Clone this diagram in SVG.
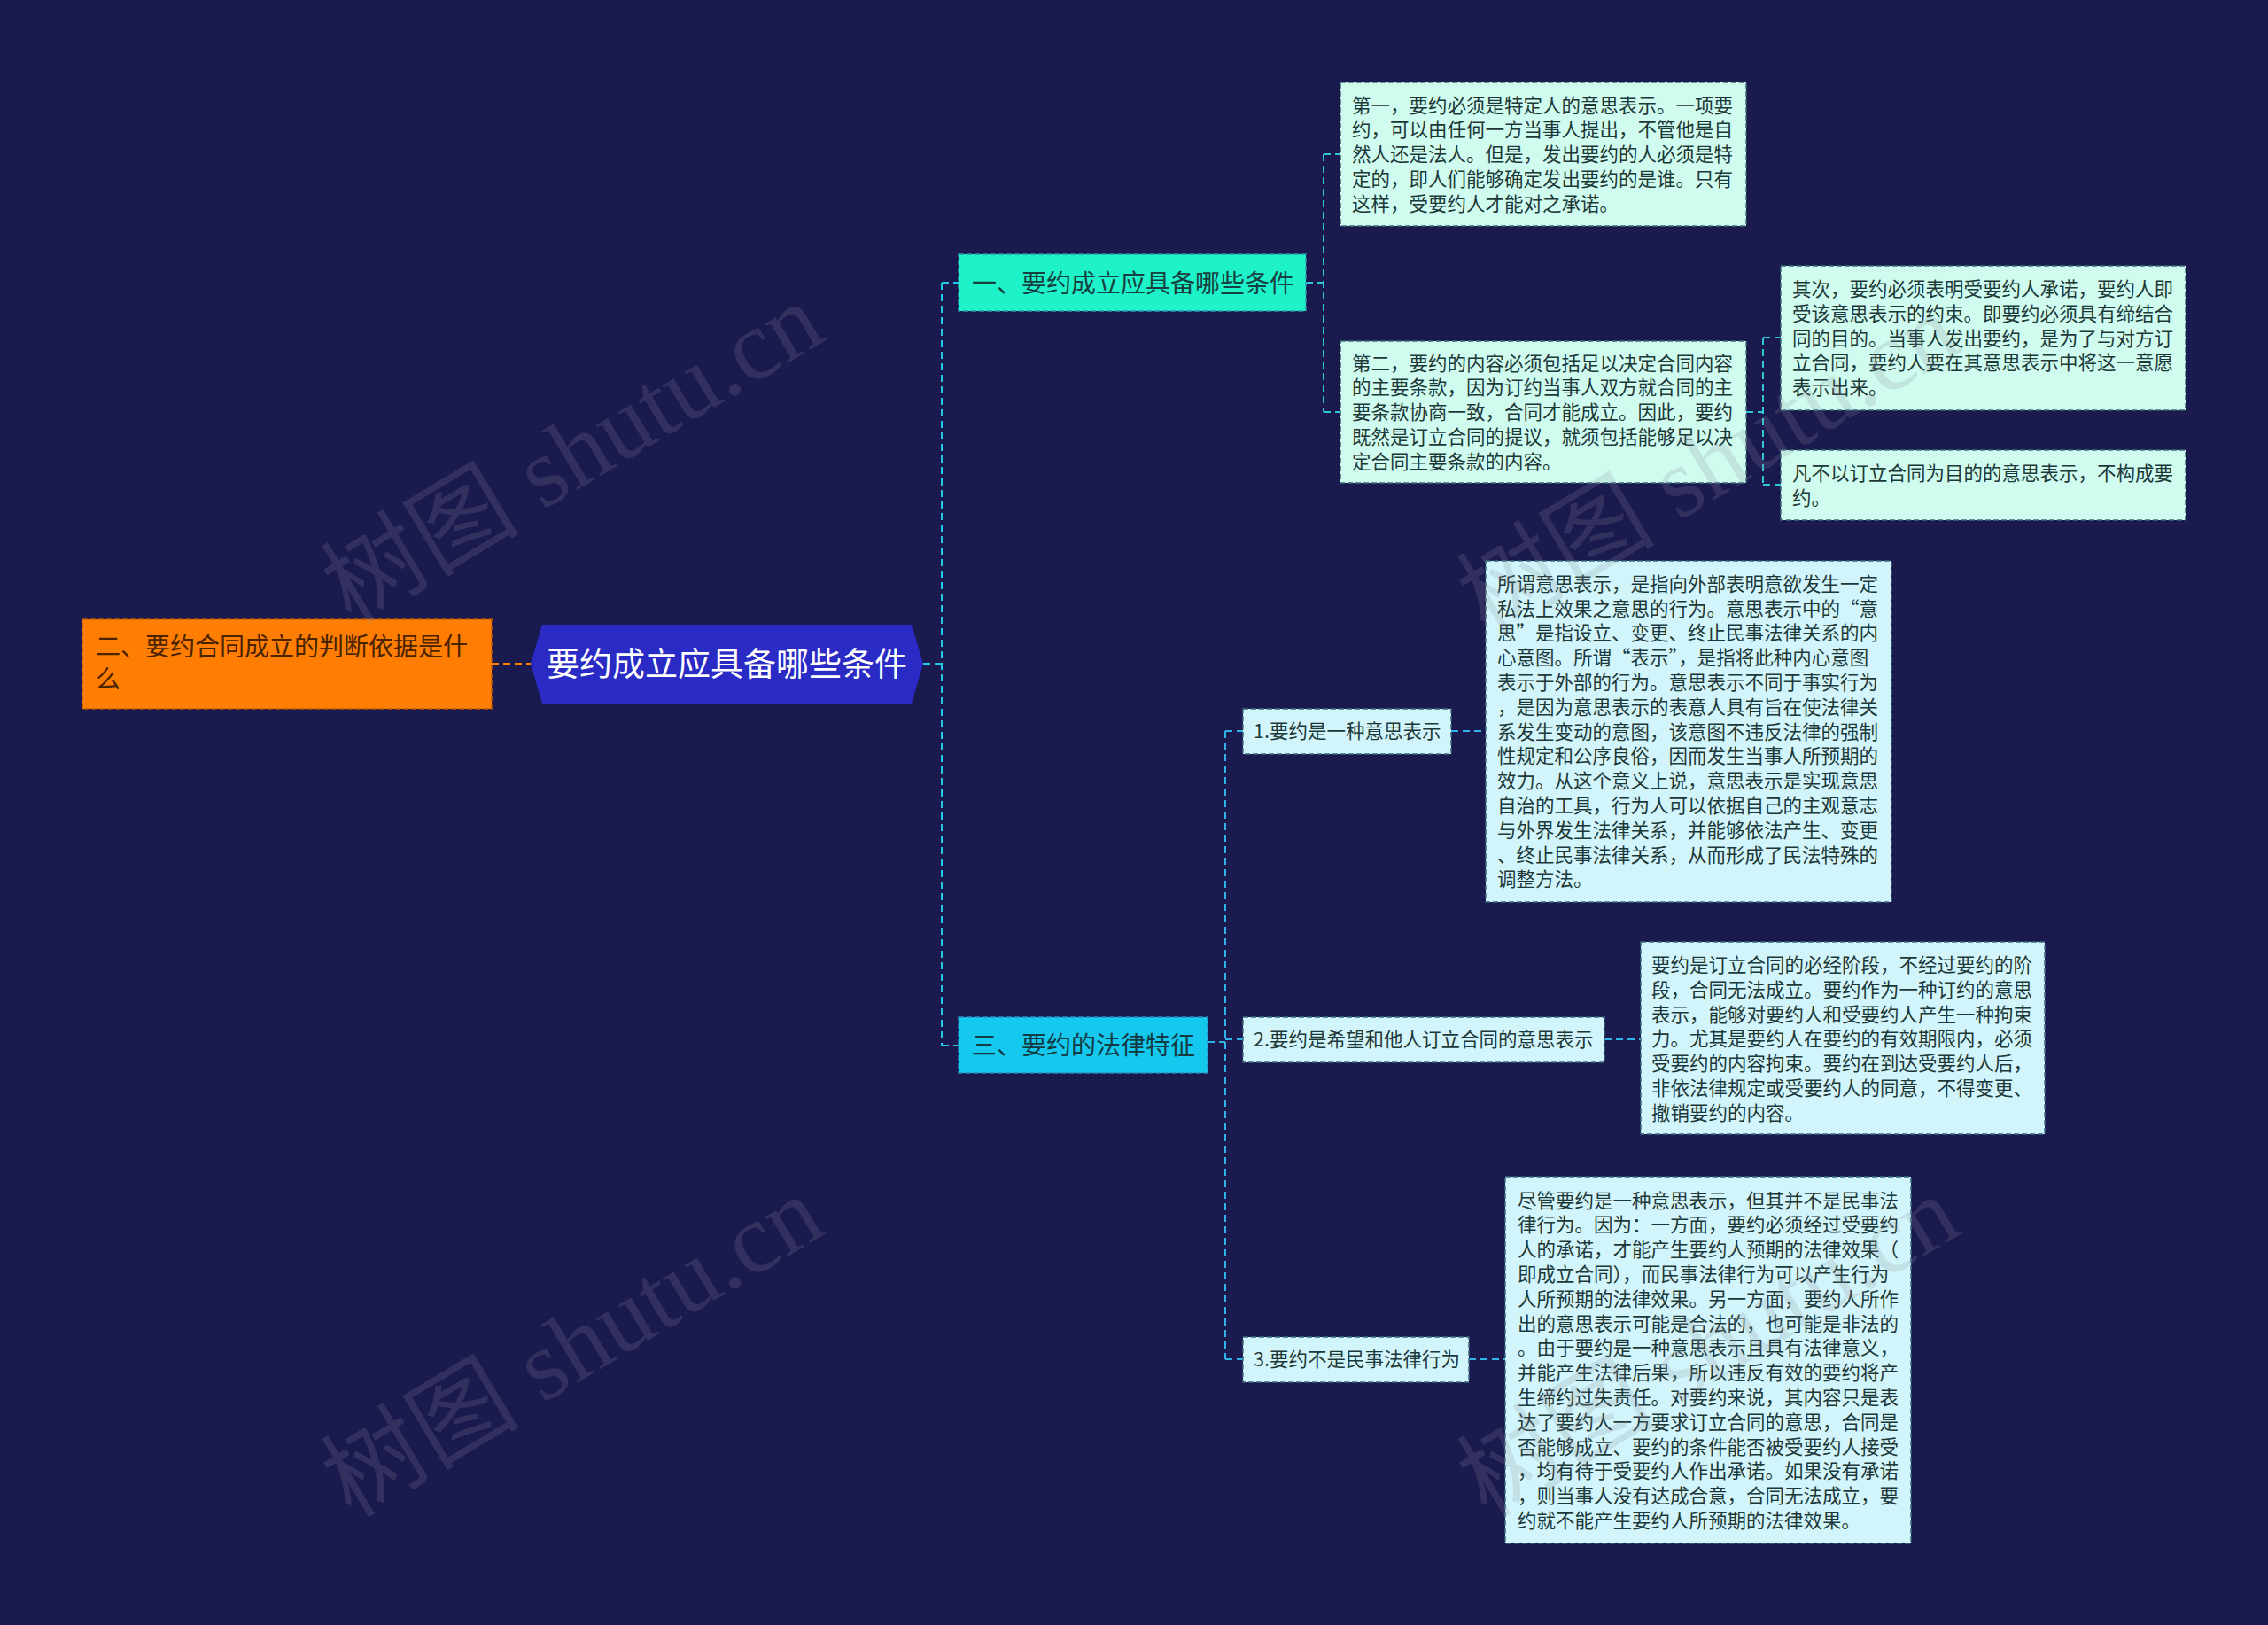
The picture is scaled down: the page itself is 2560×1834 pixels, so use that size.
<svg xmlns="http://www.w3.org/2000/svg" width="2560" height="1834" viewBox="0 0 2560 1834">
<style>
.t{font-family:"Noto Sans CJK SC","Noto Sans",sans-serif;}
.leaf{font-size:21.5px;fill:#1d3838;}
.lm{fill:#cffcef;stroke:#3a6f7c;stroke-width:1.5;stroke-dasharray:6 3;}
.lc{fill:#d2f5fb;stroke:#3a6a80;stroke-width:1.5;stroke-dasharray:6 3;}
.con{fill:none;stroke-width:2;stroke-dasharray:8 5;}
.wm{font-family:"Liberation Serif","Noto Sans CJK SC",serif;font-size:112px;fill:#8a8a9a;fill-opacity:0.2;}
</style>
<rect width="2560" height="1834" fill="#1b1a4f"/>
<g id="connectors">
<path class="con" stroke="#ff7f00" d="M555,749 H599"/>
<path class="con" stroke="#22c8e6" d="M1042,749 H1063 M1063,319 V1180 M1063,319 H1082 M1063,1180 H1082"/>
<path class="con" stroke="#2fc6d6" d="M1474,319 H1494 M1494,174 V465 M1494,174 H1513 M1494,465 H1513"/>
<path class="con" stroke="#2fc6d6" d="M1971,465 H1990 M1990,381 V547 M1990,381 H2010 M1990,547 H2010"/>
<path class="con" stroke="#2fb4ea" d="M1363,1176 H1383 M1383,825 V1534 M1383,825 H1403 M1383,1173 H1403 M1383,1534 H1403"/>
<path class="con" stroke="#2fb4ea" d="M1638,825 H1677 M1811,1173 H1852 M1658,1534 H1699"/>
</g>
<g id="node-left">
<rect x="93" y="699" width="462" height="101" fill="#ff7d00" stroke="#b85a00" stroke-width="1.5" stroke-dasharray="6 3"/>
<text class="t" font-size="28" fill="#4a2300"><tspan x="108" y="740">二、要约合同成立的判断依据是什</tspan><tspan x="108" y="777">么</tspan></text>
</g>
<g id="node-root">
<polygon points="599,749 612,705 1029,705 1042,749 1029,794 612,794" fill="#2a2ac4"/>
<text class="t" x="820.5" y="763" font-size="37" fill="#ffffff" text-anchor="middle">要约成立应具备哪些条件</text>
</g>
<g id="node-1">
<rect x="1082" y="287" width="392" height="64" fill="#1ef2c8" stroke="#2a98b0" stroke-width="1.5" stroke-dasharray="6 3"/>
<text class="t" x="1097" y="329.5" font-size="28" fill="#174040">一、要约成立应具备哪些条件</text>
</g>
<g id="node-3">
<rect x="1082" y="1148" width="281" height="63" fill="#14c8ee" stroke="#2a8ab8" stroke-width="1.5" stroke-dasharray="6 3"/>
<text class="t" x="1097" y="1190" font-size="28" fill="#143a44">三、要约的法律特征</text>
</g>
<g id="leaf-a">
<rect class="lm" x="1513" y="93" width="458" height="162"/>
<text class="t leaf"><tspan x="1526" y="126.5">第一，要约必须是特定人的意思表示。一项要</tspan><tspan x="1526" dy="27.8">约，可以由任何一方当事人提出，不管他是自</tspan><tspan x="1526" dy="27.8">然人还是法人。但是，发出要约的人必须是特</tspan><tspan x="1526" dy="27.8">定的，即人们能够确定发出要约的是谁。只有</tspan><tspan x="1526" dy="27.8">这样，受要约人才能对之承诺。</tspan></text>
</g>
<g id="leaf-b">
<rect class="lm" x="1513" y="385" width="458" height="160"/>
<text class="t leaf"><tspan x="1526" y="417.5">第二，要约的内容必须包括足以决定合同内容</tspan><tspan x="1526" dy="27.8">的主要条款，因为订约当事人双方就合同的主</tspan><tspan x="1526" dy="27.8">要条款协商一致，合同才能成立。因此，要约</tspan><tspan x="1526" dy="27.8">既然是订立合同的提议，就须包括能够足以决</tspan><tspan x="1526" dy="27.8">定合同主要条款的内容。</tspan></text>
</g>
<g id="leaf-c">
<rect class="lm" x="2010" y="300" width="457" height="163"/>
<text class="t leaf"><tspan x="2023" y="334">其次，要约必须表明受要约人承诺，要约人即</tspan><tspan x="2023" dy="27.8">受该意思表示的约束。即要约必须具有缔结合</tspan><tspan x="2023" dy="27.8">同的目的。当事人发出要约，是为了与对方订</tspan><tspan x="2023" dy="27.8">立合同，要约人要在其意思表示中将这一意愿</tspan><tspan x="2023" dy="27.8">表示出来。</tspan></text>
</g>
<g id="leaf-d">
<rect class="lm" x="2010" y="508" width="457" height="79"/>
<text class="t leaf"><tspan x="2023" y="541.7">凡不以订立合同为目的的意思表示，不构成要</tspan><tspan x="2023" dy="27.8">约。</tspan></text>
</g>
<g id="sub-1">
<rect class="lc" x="1403" y="800" width="235" height="51"/>
<text class="t leaf" x="1415" y="833">1.要约是一种意思表示</text>
</g>
<g id="sub-2">
<rect class="lc" x="1403" y="1148" width="408" height="51"/>
<text class="t leaf" x="1415" y="1181">2.要约是希望和他人订立合同的意思表示</text>
</g>
<g id="sub-3">
<rect class="lc" x="1403" y="1509" width="255" height="51"/>
<text class="t leaf" x="1415" y="1542">3.要约不是民事法律行为</text>
</g>
<g id="leaf-e">
<rect class="lc" x="1677" y="633" width="458" height="385"/>
<text class="t leaf"><tspan x="1690" y="666.8">所谓意思表示，是指向外部表明意欲发生一定</tspan><tspan x="1690" dy="27.8">私法上效果之意思的行为。意思表示中的“意</tspan><tspan x="1690" dy="27.8">思”是指设立、变更、终止民事法律关系的内</tspan><tspan x="1690" dy="27.8">心意图。所谓“表示”，是指将此种内心意图</tspan><tspan x="1690" dy="27.8">表示于外部的行为。意思表示不同于事实行为</tspan><tspan x="1690" dy="27.8">，是因为意思表示的表意人具有旨在使法律关</tspan><tspan x="1690" dy="27.8">系发生变动的意图，该意图不违反法律的强制</tspan><tspan x="1690" dy="27.8">性规定和公序良俗，因而发生当事人所预期的</tspan><tspan x="1690" dy="27.8">效力。从这个意义上说，意思表示是实现意思</tspan><tspan x="1690" dy="27.8">自治的工具，行为人可以依据自己的主观意志</tspan><tspan x="1690" dy="27.8">与外界发生法律关系，并能够依法产生、变更</tspan><tspan x="1690" dy="27.8">、终止民事法律关系，从而形成了民法特殊的</tspan><tspan x="1690" dy="27.8">调整方法。</tspan></text>
</g>
<g id="leaf-f">
<rect class="lc" x="1852" y="1063" width="456" height="217"/>
<text class="t leaf"><tspan x="1864" y="1097">要约是订立合同的必经阶段，不经过要约的阶</tspan><tspan x="1864" dy="27.8">段，合同无法成立。要约作为一种订约的意思</tspan><tspan x="1864" dy="27.8">表示，能够对要约人和受要约人产生一种拘束</tspan><tspan x="1864" dy="27.8">力。尤其是要约人在要约的有效期限内，必须</tspan><tspan x="1864" dy="27.8">受要约的内容拘束。要约在到达受要约人后，</tspan><tspan x="1864" dy="27.8">非依法律规定或受要约人的同意，不得变更、</tspan><tspan x="1864" dy="27.8">撤销要约的内容。</tspan></text>
</g>
<g id="leaf-g">
<rect class="lc" x="1699" y="1328" width="458" height="414"/>
<text class="t leaf"><tspan x="1713" y="1362.5">尽管要约是一种意思表示，但其并不是民事法</tspan><tspan x="1713" dy="27.8">律行为。因为：一方面，要约必须经过受要约</tspan><tspan x="1713" dy="27.8">人的承诺，才能产生要约人预期的法律效果（</tspan><tspan x="1713" dy="27.8">即成立合同），而民事法律行为可以产生行为</tspan><tspan x="1713" dy="27.8">人所预期的法律效果。另一方面，要约人所作</tspan><tspan x="1713" dy="27.8">出的意思表示可能是合法的，也可能是非法的</tspan><tspan x="1713" dy="27.8">。由于要约是一种意思表示且具有法律意义，</tspan><tspan x="1713" dy="27.8">并能产生法律后果，所以违反有效的要约将产</tspan><tspan x="1713" dy="27.8">生缔约过失责任。对要约来说，其内容只是表</tspan><tspan x="1713" dy="27.8">达了要约人一方要求订立合同的意思，合同是</tspan><tspan x="1713" dy="27.8">否能够成立、要约的条件能否被受要约人接受</tspan><tspan x="1713" dy="27.8">，均有待于受要约人作出承诺。如果没有承诺</tspan><tspan x="1713" dy="27.8">，则当事人没有达成合意，合同无法成立，要</tspan><tspan x="1713" dy="27.8">约就不能产生要约人所预期的法律效果。</tspan></text>
</g>
<g id="watermark">
<text class="wm" x="645" y="550" text-anchor="middle" transform="rotate(-31 645 510)">树图 shutu.cn</text>
<text class="wm" x="645" y="1558" text-anchor="middle" transform="rotate(-31 645 1518)">树图 shutu.cn</text>
<text class="wm" x="1927" y="562" text-anchor="middle" transform="rotate(-31 1927 522)">树图 shutu.cn</text>
<text class="wm" x="1927" y="1558" text-anchor="middle" transform="rotate(-31 1927 1518)">树图 shutu.cn</text>
</g>
</svg>
